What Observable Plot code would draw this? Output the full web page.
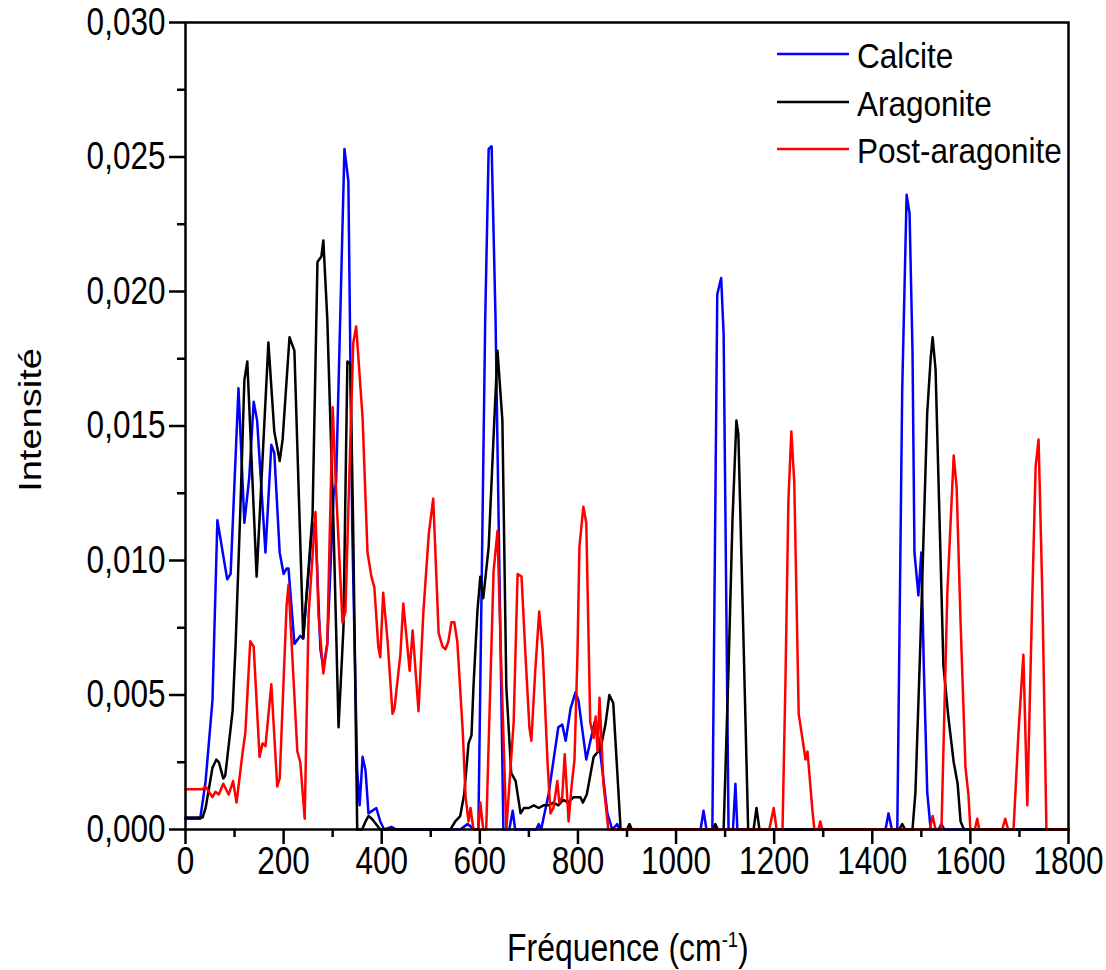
<!DOCTYPE html>
<html><head><meta charset="utf-8">
<script src="https://cdn.jsdelivr.net/npm/d3@7"></script>
<script src="https://cdn.jsdelivr.net/npm/@observablehq/plot@0.6"></script>
<style>
body{margin:0;background:#fff;}
#wrap{position:relative;width:1106px;height:970px;font-family:"Liberation Sans",Arial,sans-serif;color:#000;}
.lg{position:absolute;left:777px;height:36px;line-height:36px;font-size:35px;white-space:nowrap;}
.lg svg{position:absolute;left:0;top:0;}
.lg span{position:absolute;left:80px;top:0;display:inline-block;transform:scaleX(0.9);transform-origin:left center;}
#xt{position:absolute;left:0;width:1106px;box-sizing:border-box;padding-left:150px;top:920px;text-align:center;font-size:38px;line-height:40px;}
#xt span{display:inline-block;transform:scaleX(0.84);}
#yt{position:absolute;left:30px;top:420px;font-size:38px;line-height:40px;white-space:nowrap;}
#yt span{display:inline-block;transform:translate(-50%,-50%) rotate(-90deg) scaleY(0.84);}
</style></head><body><div id="wrap"></div>
<script>
const seriesNames = ["Calcite", "Aragonite", "Post-aragonite"];
const seriesColors = ["#0000ff", "#000000", "#ff0000"];

const calciteFreq = [0,30,41,55,65,85,92,108,120,130,139,146,163,175,181,192,200,206,210,222,234,240,259,265,275,281,289,302,307,324,332,340,350,355,361,367,373,389,397,405,420,430,560,575,590,597,611,618,624,632,648,660,667,672,715,720,725,740,760,768,775,785,795,801,817,834,842,860,870,880,885,1050,1056,1062,1074,1084,1092,1097,1107,1116,1121,1125,1427,1433,1440,1451,1461,1470,1476,1482,1486,1494,1500,1505,1512,1519,1535,1541,1547,1800];
const calciteInt = [0.0004,0.0004,0.0018,0.0048,0.0115,0.0093,0.0095,0.0164,0.0114,0.0131,0.0159,0.0152,0.0103,0.0143,0.0140,0.0103,0.0095,0.0097,0.0097,0.0069,0.0072,0.0071,0.0114,0.0112,0.0067,0.0060,0.0069,0.0125,0.0129,0.0253,0.0241,0.0111,0.0022,0.0009,0.0027,0.0022,0.0006,0.0008,0.0003,0,0.0001,0,0,0.0002,0,0,0.0190,0.0253,0.0254,0.0190,0,0,0.0007,0,0,0.0002,0,0.0013,0.0038,0.0039,0.0033,0.0045,0.0051,0.0048,0.0026,0.0040,0.0034,0.0006,0,0.0002,0,0,0.0007,0,0,0.0199,0.0205,0.0184,0,0,0.0017,0,0,0.0006,0,0,0.0163,0.0236,0.0229,0.0178,0.0103,0.0087,0.0103,0.0061,0.0014,0,0,0.0002,0,0];

const aragoniteFreq = [0,35,41,55,63,68,77,81,96,102,112,120,126,145,169,181,192,198,212,222,240,259,269,277,281,289,302,312,322,330,336,342,350,360,367,373,380,397,540,550,560,568,577,583,587,595,601,607,618,628,636,646,654,664,673,683,690,700,710,720,730,740,750,760,770,780,791,805,810,818,832,846,856,864,872,887,900,905,910,1075,1080,1085,1097,1107,1115,1123,1127,1137,1147,1158,1164,1170,1455,1461,1467,1482,1488,1498,1512,1519,1523,1529,1537,1545,1555,1566,1574,1580,1587,1800];
const aragoniteInt = [0.00045,0.00045,0.0008,0.0023,0.0026,0.0025,0.0019,0.0020,0.0044,0.0068,0.0120,0.0167,0.0174,0.0094,0.0181,0.0148,0.0137,0.0145,0.0183,0.0178,0.0071,0.0117,0.0211,0.0213,0.0219,0.0190,0.0111,0.0038,0.0075,0.0174,0.0173,0.0110,0,0,0.0003,0.0005,0.0004,0,0,0.0003,0.0005,0.0013,0.0032,0.0035,0.0053,0.0081,0.0094,0.0086,0.0105,0.0146,0.0178,0.0152,0.0053,0.0021,0.0018,0.0006,0.0008,0.0008,0.0009,0.0008,0.0009,0.0009,0.0010,0.0009,0.0011,0.0010,0.0012,0.0012,0.0010,0.0013,0.0027,0.0030,0.0039,0.0050,0.0047,0,0,0.0002,0,0,0.0002,0,0,0.0060,0.0115,0.0152,0.0147,0.0074,0,0,0.0008,0,0,0.0002,0,0,0.0014,0.0069,0.0155,0.0175,0.0183,0.0171,0.0116,0.0061,0.0042,0.0025,0.0017,0.0003,0,0];

const postAragoniteFreq = [0,35,41,55,61,68,77,88,97,104,116,122,132,139,151,157,163,175,187,192,206,210,228,234,243,251,265,271,281,289,300,306,320,326,332,342,348,361,371,379,385,393,397,403,412,422,426,438,444,457,463,475,485,496,505,516,524,530,536,542,548,554,565,571,577,581,587,597,601,607,613,628,636,642,654,669,677,685,693,701,705,713,721,728,738,744,750,758,762,768,773,781,787,793,799,803,811,817,825,832,836,840,844,852,862,1190,1199,1205,1217,1223,1229,1235,1241,1250,1264,1268,1278,1282,1290,1294,1298,1517,1523,1529,1541,1553,1566,1572,1580,1590,1596,1600,1609,1614,1618,1665,1671,1677,1688,1698,1708,1716,1726,1733,1739,1747,1755,1800];
const postAragoniteInt = [0.0015,0.0015,0.0016,0.0012,0.0014,0.0013,0.0017,0.0013,0.0018,0.0010,0.0028,0.0036,0.0070,0.0068,0.0027,0.0032,0.0031,0.0054,0.0016,0.0019,0.0083,0.0091,0.0029,0.0025,0.0004,0.0080,0.0118,0.0080,0.0058,0.0069,0.0157,0.0130,0.0077,0.0081,0.0119,0.0181,0.0187,0.0153,0.0103,0.0094,0.0090,0.0068,0.0064,0.0088,0.0070,0.0043,0.0045,0.0065,0.0084,0.0059,0.0074,0.0044,0.0081,0.0110,0.0123,0.0073,0.0068,0.0067,0.0070,0.0077,0.0077,0.0070,0.0037,0.0012,0.0003,0.0008,0,0,0.0010,0,0,0.0096,0.0111,0.0071,0,0.0040,0.0095,0.0094,0.0065,0.0038,0.0033,0.0059,0.0081,0.0067,0.0025,0.0006,0.0008,0.0018,0.0010,0.0012,0.0028,0.0003,0.0016,0.0026,0.0065,0.0105,0.0120,0.0114,0.0040,0.0034,0.0042,0.0029,0.0049,0.0017,0,0,0.0008,0,0,0.0055,0.0122,0.0148,0.0129,0.0043,0.0026,0.0029,0.0007,0,0,0.0003,0,0,0.0005,0,0,0.0088,0.0139,0.0127,0.0077,0.0023,0.0013,0,0,0.0004,0,0,0.0004,0,0,0.0036,0.0065,0.0009,0.0085,0.0135,0.0145,0.0085,0,0];

const xMajorTicks = [0,200,400,600,800,1000,1200,1400,1600,1800];
const xMinorTicks = [100,300,500,700,900,1100,1300,1500,1700];
const yMajorTicks = [0,0.005,0.010,0.015,0.020,0.025,0.030];
const yMinorTicks = [0.0025,0.0075,0.0125,0.0175,0.0225,0.0275];

const seriesFreq = [calciteFreq, aragoniteFreq, postAragoniteFreq];
const seriesInt = [calciteInt, aragoniteInt, postAragoniteInt];
const rows = [];
seriesNames.forEach((s, k) => seriesFreq[k].forEach((f, i) => rows.push({s, f, v: seriesInt[k][i]})));

const fmt = d => d.toFixed(3).replace(".", ",");

const chart = Plot.plot({
  width: 1106, height: 970,
  marginLeft: 185, marginRight: 38, marginTop: 22, marginBottom: 141,
  style: {fontFamily: "'Liberation Sans', Arial, sans-serif", background: "white", color: "black", overflow: "visible"},
  x: {domain: [0, 1800]},
  y: {domain: [0, 0.03]},
  color: {domain: seriesNames, range: seriesColors},
  marks: [
    Plot.line(rows, {x: "f", y: "v", z: "s", stroke: "s", strokeWidth: 2.5}),
    Plot.frame({stroke: "black", strokeWidth: 2.5}),
    Plot.axisX(xMajorTicks, {tickSize: 15, tickPadding: 3, strokeWidth: 2.5, fontSize: 38, tickFormat: d => String(d), label: null}),
    Plot.axisX(xMinorTicks, {tickSize: 8, strokeWidth: 2.5, tickFormat: () => "", label: null}),
    Plot.axisY(yMajorTicks, {tickSize: 16, tickPadding: 4, strokeWidth: 2.5, fontSize: 38, tickFormat: fmt, label: null}),
    Plot.axisY(yMinorTicks, {tickSize: 8, strokeWidth: 2.5, tickFormat: () => "", label: null})
  ]
});

const wrap = document.getElementById("wrap");
wrap.appendChild(chart);

// condense tick labels horizontally (narrow Arial look)
chart.querySelectorAll('g[aria-label$="tick label"] text').forEach(t => {
  let tr = t.getAttribute("transform") || "";
  if (t.hasAttribute("x") || t.hasAttribute("y")) {
    const x = +(t.getAttribute("x") || 0), y = +(t.getAttribute("y") || 0);
    if (!/translate/.test(tr)) { tr = `translate(${x},${y})`; t.removeAttribute("x"); t.removeAttribute("y"); }
  }
  t.setAttribute("transform", tr + " scale(0.83,1)");
});

// legend (inside the plot frame, top right)
const legendTops = [38, 86, 133];
seriesNames.forEach((name, i) => {
  const d = document.createElement("div");
  d.className = "lg";
  d.style.top = legendTops[i] + "px";
  d.innerHTML = `<svg width="76" height="36"><line x1="0" x2="72" y1="16" y2="16" stroke="${seriesColors[i]}" stroke-width="2.5"/></svg><span>${name}</span>`;
  wrap.appendChild(d);
});

const xt = document.createElement("div");
xt.id = "xt";
xt.innerHTML = `<span>Fréquence (cm<sup style="font-size:22px;vertical-align:14px">-1</sup>)</span>`;
wrap.appendChild(xt);

const yt = document.createElement("div");
yt.id = "yt";
yt.innerHTML = `<span>Intensité</span>`;
wrap.appendChild(yt);
</script>
</body></html>
